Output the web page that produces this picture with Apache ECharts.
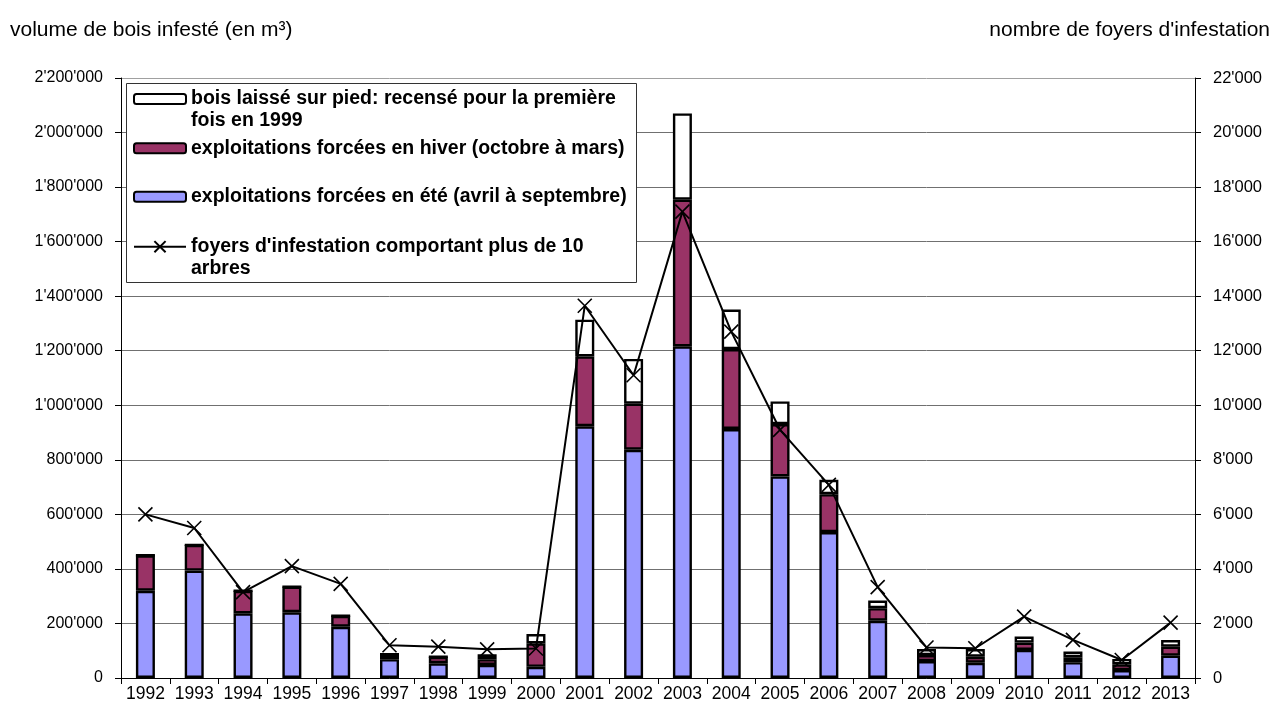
<!DOCTYPE html>
<html>
<head>
<meta charset="utf-8">
<script src="https://cdn.jsdelivr.net/npm/echarts@6/dist/echarts.min.js"></script>
<style>
  html, body { margin: 0; padding: 0; background: #fff; }
  #chart { width: 1279px; height: 707px; }
</style>
</head>
<body>
<div id="chart"></div>
<script>
// Years on the category axis
const years = ['1992','1993','1994','1995','1996','1997','1998','1999','2000','2001','2002',
               '2003','2004','2005','2006','2007','2008','2009','2010','2011','2012','2013'];

// Infested wood volume (m3), stacked: summer, winter, left standing
const summerVolume = [320000, 394000, 237000, 241000, 188000, 69000, 54000, 48000, 41000, 923000, 837000,
                      1216000, 913000, 739000, 535000, 210000, 62000, 56000, 103000, 58000, 29000, 82000];
const winterVolume = [130000, 94000, 83000, 94000, 40000, 18000, 24000, 21000, 86000, 256000, 169000,
                      538000, 293000, 192000, 139000, 46000, 22000, 22000, 27000, 18000, 21000, 33000];
const standingVolume = [0, 0, 0, 0, 0, 0, 0, 18000, 34000, 135000, 164000,
                        316000, 145000, 83000, 53000, 28000, 22000, 28000, 22000, 21000, 20000, 24000];

// Number of infestation spots with more than 10 trees
const spots = [6000, 5500, 3150, 4100, 3450, 1200, 1150, 1050, 1080, 13650, 11100,
               17100, 12700, 9100, 7080, 3330, 1120, 1090, 2250, 1400, 660, 2030];

const nameStanding = 'bois laissé sur pied: recensé pour la première fois en 1999';
const nameWinter = 'exploitations forcées en hiver (octobre à mars)';
const nameSummer = 'exploitations forcées en été (avril à septembre)';
const nameSpots = "foyers d'infestation comportant plus de 10 arbres";

const FONT = '"Liberation Sans", Arial, sans-serif';
const fmt = v => String(v).replace(/\B(?=(\d{3})+(?!\d))/g, "'");

// Legend labels wrapped as in the chart; a leading blank line keeps the
// symbol level with the first text line.
const legendText = {
  [nameStanding]: ' \nbois laissé sur pied: recensé pour la première\nfois en 1999',
  [nameWinter]: nameWinter,
  [nameSummer]: nameSummer,
  [nameSpots]: " \nfoyers d'infestation comportant plus de 10\narbres"
};

const LH = 21.5;
const legendBase = {
  orient: 'vertical',
  left: 133,
  padding: 0,
  itemWidth: 52,
  itemHeight: 10,
  z: 5,
  selectedMode: false,
  formatter: n => legendText[n],
  textStyle: { fontFamily: FONT, fontSize: 19.5, fontWeight: 'bold', color: '#000', lineHeight: LH }
};

const barStyle = color => ({ color: color, borderColor: '#000', borderWidth: 2.4 });

const splitColors = [];
for (let i = 0; i < 12; i++) splitColors.push(i === 11 ? '#a0a0a0' : '#707070');

const titleStyle = { fontFamily: FONT, fontSize: 21, fontWeight: 'normal', color: '#000' };
const tickFont = { fontFamily: FONT, fontSize: 16, color: '#000' };

const chart = echarts.init(document.getElementById('chart'), null, { renderer: 'canvas' });
chart.setOption({
  animation: false,
  backgroundColor: '#fff',
  textStyle: { fontFamily: FONT },
  title: [
    { text: 'volume de bois infesté (en m³)', left: 10, top: 20, padding: 0, textStyle: titleStyle },
    { text: "nombre de foyers d'infestation", right: 9, top: 20, padding: 0, textStyle: titleStyle }
  ],
  graphic: [{
    type: 'rect', left: 126, top: 83, z: 3,
    shape: { width: 510, height: 199 },
    style: { fill: '#fff', stroke: '#333', lineWidth: 1 }
  }],
  legend: [
    Object.assign({}, legendBase, { top: 99 - 1.5 * LH, data: [nameStanding] }),
    Object.assign({}, legendBase, { top: 148.3 - LH / 2, data: [nameWinter] }),
    Object.assign({}, legendBase, { top: 196.7 - LH / 2, data: [nameSummer] }),
    Object.assign({}, legendBase, { top: 246.7 - 1.5 * LH, itemHeight: 14, data: [nameSpots] })
  ],
  grid: { left: 121, right: 84, top: 78, bottom: 29, containLabel: false },
  xAxis: {
    type: 'category',
    data: years,
    boundaryGap: true,
    axisLine: { lineStyle: { color: '#000', width: 1 } },
    axisTick: { show: true, length: 6, inside: false, lineStyle: { color: '#000' } },
    axisLabel: Object.assign({ margin: 7, interval: 0 }, tickFont, { fontSize: 17.5 })
  },
  yAxis: [{
    type: 'value', min: 0, max: 2200000, interval: 200000,
    axisLine: { show: true, lineStyle: { color: '#000', width: 1 } },
    axisTick: { show: true, length: 6, lineStyle: { color: '#000' } },
    axisLabel: Object.assign({ margin: 18, formatter: fmt }, tickFont),
    splitLine: { show: true, lineStyle: { color: splitColors, width: 1 } }
  }, {
    type: 'value', min: 0, max: 22000, interval: 2000, position: 'right',
    axisLine: { show: true, lineStyle: { color: '#000', width: 1 } },
    axisTick: { show: true, length: 6, lineStyle: { color: '#000' } },
    axisLabel: Object.assign({ margin: 18, formatter: fmt }, tickFont, { fontSize: 16.5 }),
    splitLine: { show: false }
  }],
  series: [
    { name: nameSummer, type: 'bar', stack: 'vol', barWidth: 19, data: summerVolume,
      itemStyle: barStyle('#9999ff'), z: 2 },
    { name: nameWinter, type: 'bar', stack: 'vol', barWidth: 19, data: winterVolume,
      itemStyle: barStyle('#993366'), z: 2 },
    { name: nameStanding, type: 'bar', stack: 'vol', barWidth: 19, data: standingVolume,
      itemStyle: barStyle('#ffffff'), z: 2 },
    { name: nameSpots, type: 'line', yAxisIndex: 1, data: spots, z: 4,
      symbol: 'path://M0,0L10,10M10,0L0,10', symbolSize: 14, showAllSymbol: true,
      lineStyle: { color: '#000', width: 2 },
      itemStyle: { color: '#000', borderColor: '#000', borderWidth: 1.6 } }
  ]
});
</script>
</body>
</html>
